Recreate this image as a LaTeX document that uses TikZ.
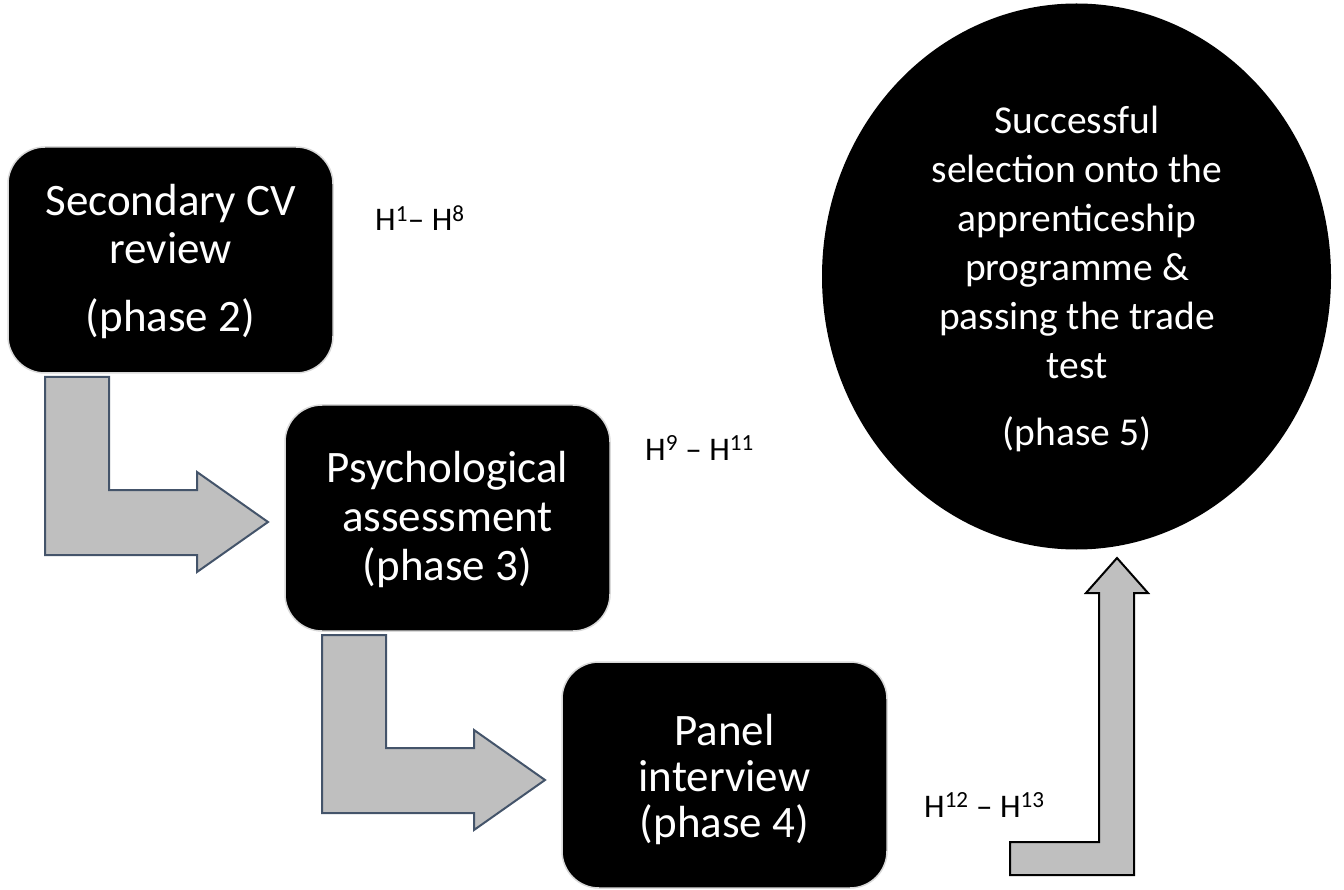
\documentclass[tikz,border=0pt]{standalone}
\usepackage{fontspec}
\setmainfont{Carlito}
\usetikzlibrary{calc,shapes.geometric}

\definecolor{arrowfill}{HTML}{BFBFBF}
\definecolor{arrowline}{HTML}{44546A}
\definecolor{boxrim}{HTML}{D9D9D9}

\tikzset{
  phasebox/.style={draw=boxrim, line width=1.5pt, fill=black, rounded corners=37pt,
    minimum width=325pt, minimum height=226pt, inner sep=0pt, outer sep=0pt},
  goalshape/.style={ellipse, fill=black, minimum width=509pt, minimum height=546pt,
    inner sep=0pt, outer sep=0pt},
  boxtext/.style={text=white, align=center, anchor=north, inner sep=0pt,
    font=\fontsize{45}{48}\selectfont},
  goaltext/.style={text=white, align=center, anchor=north, inner sep=0pt,
    font=\fontsize{39.5}{49}\selectfont},
  hlabel/.style={anchor=base west, inner sep=0pt, font=\fontsize{33}{40}\selectfont},
  bentarrow/.style={draw=arrowline, line width=2pt, fill=arrowfill, line join=miter},
  uparrow/.style={draw=black, line width=2pt, fill=arrowfill, line join=miter},
}

\begin{document}
\begin{tikzpicture}[x=1pt, y=-1pt]
\useasboundingbox (0,0) rectangle (1344,890);

% stages of the selection process
\node[phasebox] (box1) at (170.5,260) {};
\node[phasebox] (box2) at (447.5,518) {};
\node[phasebox] (box3) at (724.5,775) {};
\node[goalshape] (goal) at (1076.5,276.5) {};

% stage captions (the strut puts the first baseline 40pt below the anchor)
\node[boxtext] (t1) at (170.5,175)
  {\rule{0pt}{40pt}Secondary CV\\review\\[20pt](phase 2)};
\node[boxtext, font=\fontsize{45}{49}\selectfont] (t2) at (447.5,442)
  {\rule{0pt}{40pt}Psychological\\assessment\\(phase 3)};
\node[boxtext, font=\fontsize{45}{46}\selectfont] (t3) at (724.5,705)
  {\rule{0pt}{40pt}Panel\\interview\\(phase 4)};
\node[goaltext] (t5) at (1077,93)
  {\rule{0pt}{40pt}Successful\\selection onto the\\apprenticeship\\programme \&\\passing the trade\\test\\[18pt](phase 5)};

% hypothesis ranges
\node[hlabel] (h1) at (375,231) {H\textsuperscript{1}– H\textsuperscript{8}};
\node[hlabel] (h2) at (645,460) {H\textsuperscript{9} – H\textsuperscript{11}};
\node[hlabel] (h3) at (924,817) {H\textsuperscript{12} – H\textsuperscript{13}};

% bent block arrows between the stages
\coordinate (a1) at ($(box1.south west)+(37,4)$);
\coordinate (a2) at ($(box2.south west)+(37,4)$);
\foreach \s in {a1,a2}
  \draw[bentarrow] (\s) -- ++(64,0) -- ++(0,113) -- ++(88,0) -- ++(0,-18)
    -- ++(71,50) -- ++(-71,50) -- ++(0,-17) -- ++(-152,0) -- cycle;

% upward block arrow into the final stage
\coordinate (a3) at ($(box3.south east)+(123,-13)$);
\draw[uparrow] (a3) -- ++(124,0) -- ++(0,-282) -- ++(14,0) -- ++(-31,-35)
  -- ++(-31,35) -- ++(13,0) -- ++(0,249) -- ++(-89,0) -- cycle;
\end{tikzpicture}
\end{document}
